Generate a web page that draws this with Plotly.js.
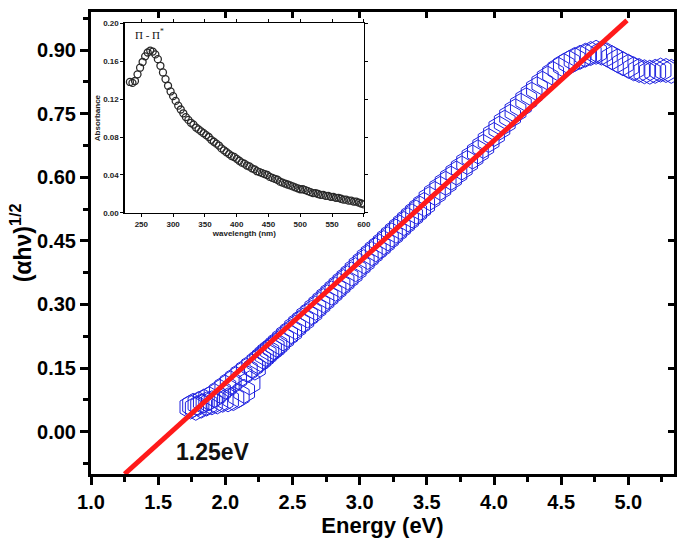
<!DOCTYPE html>
<html>
<head>
<meta charset="utf-8">
<script src="https://cdn.plot.ly/plotly-3.0.1.min.js"></script>
<style>html,body{margin:0;padding:0;background:#fff;}#chart{width:685px;height:539px;}</style>
</head>
<body>
<div id="chart"></div>
<script>
// Main Tauc plot data
const energy = [1.74,1.76,1.78,1.80,1.82,1.84,1.86,1.88,1.90,1.92,1.94,1.96,1.98,2.00,2.02,2.04,2.06,2.08,2.10,2.12,2.14,2.16,2.18,2.20,2.22,2.24,2.26,2.28,2.30,2.32,2.34,2.36,2.38,2.40,
  2.43,2.46,2.49,2.52,2.55,2.58,2.61,2.64,2.67,2.70,2.73,2.76,2.79,2.82,2.85,2.88,2.91,2.94,2.97,3.00,3.03,3.06,3.09,3.12,3.15,3.18,3.21,3.24,3.27,3.30,3.33,3.36,3.39,3.42,3.45,3.48,
  3.52,3.56,3.60,3.64,3.68,3.72,3.76,3.80,3.84,3.88,3.92,3.96,4.00,4.04,4.08,4.12,4.16,4.20,4.24,4.28,4.32,4.36,4.40,4.44,4.48,4.52,4.56,4.60,4.64,4.68,4.72,4.76,4.80,4.84,4.88,4.92,4.96,5.00,5.04,5.08,5.12,5.16,5.20,5.24,5.28,5.32];
const ahv = [0.058,0.062,0.055,0.066,0.060,0.072,0.065,0.078,0.068,0.085,0.070,0.095,0.074,0.105,0.075,0.115,0.078,0.125,0.085,0.135,0.095,0.145,0.115,0.155,0.150,0.165,0.170,0.176,0.182,0.188,0.193,0.198,0.204,0.210,
  0.219,0.228,0.236,0.246,0.255,0.263,0.273,0.281,0.291,0.300,0.309,0.318,0.327,0.336,0.345,0.354,0.363,0.372,0.382,0.392,0.401,0.411,0.420,0.429,0.437,0.446,0.455,0.464,0.473,0.482,0.491,0.500,0.509,0.518,0.527,0.536,
  0.550,0.562,0.574,0.586,0.598,0.610,0.622,0.635,0.648,0.660,0.673,0.687,0.701,0.716,0.730,0.744,0.757,0.770,0.783,0.796,0.809,0.822,0.834,0.845,0.855,0.864,0.871,0.878,0.883,0.888,0.892,0.895,0.893,0.889,0.882,0.875,0.868,0.862,0.856,0.852,0.849,0.848,0.850,0.853,0.852,0.850];
// Linear fit line endpoints
const fitX = [1.25, 4.99];
const fitY = [-0.10, 0.97];
// Inset absorbance spectrum
const wavelength = [232,236,240,244,248,252,256,260,264,268,272,276,280,284,288,292,296,300,304,308,312,316,320,324,328,332,336,
  340,344,348,352,356,360,364,368,372,376,380,384,388,392,396,400,404,408,412,416,420,424,428,432,436,440,444,448,452,456,460,464,468,472,476,480,484,488,492,496,500,504,508,512,516,520,524,528,532,536,540,544,548,552,556,560,564,568,572,576,580,584,588,592,596,600];
const absorbance = [0.138,0.137,0.139,0.146,0.153,0.159,0.165,0.169,0.171,0.170,0.167,0.162,0.155,0.148,0.141,0.134,0.128,0.123,0.118,0.113,0.109,0.105,0.101,0.098,0.095,0.093,0.090,
  0.088,0.086,0.084,0.082,0.080,0.077,0.075,0.073,0.071,0.068,0.066,0.064,0.062,0.060,0.059,0.057,0.055,0.053,0.052,0.050,0.049,0.047,0.046,0.044,0.043,0.042,0.041,0.040,0.038,0.037,0.036,0.035,0.033,0.032,0.031,0.030,0.029,0.028,0.027,0.026,0.025,0.025,0.024,0.023,0.022,0.021,0.021,0.020,0.019,0.019,0.018,0.018,0.017,0.017,0.016,0.016,0.015,0.014,0.014,0.013,0.013,0.012,0.012,0.011,0.010,0.009];
// Labels
const xTitle = 'Energy (eV)';
const yTitle = '(αhν)<sup>1/2</sup>';
const insetXTitle = 'wavelength (nm)';
const insetYTitle = 'Absorbance';
const gapLabel = '1.25eV';
const peakLabel = 'Π - Π<sup>*</sup>';

const FONT = 'Liberation Sans, Arial, sans-serif';
const xr = [1.0, 5.34], yr = [-0.10, 0.99];

const traces = [
  {x: energy, y: ahv, type: 'scatter', mode: 'markers', xaxis: 'x', yaxis: 'y',
   marker: {symbol: 'hexagon-open', size: 24, color: '#1f22e0', line: {width: 1, color: '#1f22e0'}}, showlegend: false, hoverinfo: 'skip'},
  {x: fitX, y: fitY, type: 'scatter', mode: 'lines', xaxis: 'x', yaxis: 'y',
   line: {color: '#ff1a1a', width: 5}, showlegend: false, hoverinfo: 'skip'},
  {x: [], y: [], type: 'scatter', mode: 'markers', xaxis: 'x3', yaxis: 'y3', showlegend: false},
  {x: wavelength, y: absorbance, type: 'scatter', mode: 'markers', xaxis: 'x2', yaxis: 'y2',
   marker: {symbol: 'circle-open', size: 7, color: '#2a2a2a', line: {width: 1.3, color: '#2a2a2a'}}, showlegend: false, hoverinfo: 'skip'}
];

const layout = {
  width: 685, height: 539,
  margin: {l: 91, r: 11, t: 12, b: 65},
  paper_bgcolor: '#fff', plot_bgcolor: '#fff',
  font: {family: FONT, color: '#000'},
  xaxis: {range: xr, domain: [0, 1], anchor: 'y', showgrid: false, zeroline: false,
    showline: true, linewidth: 3, linecolor: '#000', mirror: true,
    ticks: 'outside', ticklen: 8, tickwidth: 3, tickcolor: '#000',
    tick0: 1, dtick: 0.5, tickformat: '.1f',
    minor: {ticks: 'outside', ticklen: 5, tickwidth: 3, tickcolor: '#000', dtick: 0.25, tick0: 1},
    tickfont: {size: 20, family: FONT, weight: 'bold'},
    title: {text: xTitle, font: {size: 22, family: FONT, weight: 'bold'}, standoff: 2}},
  yaxis: {range: yr, domain: [0, 1], anchor: 'x', showgrid: false, zeroline: false,
    showline: true, linewidth: 3, linecolor: '#000', mirror: true,
    ticks: 'outside', ticklen: 8, tickwidth: 3, tickcolor: '#000',
    tick0: 0, dtick: 0.15, tickformat: '.2f',
    minor: {ticks: 'outside', ticklen: 5, tickwidth: 3, tickcolor: '#000', dtick: 0.075, tick0: 0},
    tickfont: {size: 20, family: FONT, weight: 'bold'},
    title: {text: yTitle, font: {size: 23, family: FONT, weight: 'bold'}, standoff: 0}},
  xaxis3: {range: xr, overlaying: 'x', side: 'top', anchor: 'y3', showgrid: false, zeroline: false,
    showline: false, ticks: 'inside', ticklen: 6, tickwidth: 3, tickcolor: '#000',
    tick0: 1, dtick: 0.5, showticklabels: false},
  yaxis3: {range: yr, overlaying: 'y', side: 'right', anchor: 'x3', showgrid: false, zeroline: false,
    showline: false, ticks: 'inside', ticklen: 6, tickwidth: 3, tickcolor: '#000',
    tick0: 0, dtick: 0.15, showticklabels: false},
  xaxis2: {range: [224, 600], domain: [0.058, 0.468], anchor: 'y2', showgrid: false, zeroline: false,
    showline: true, linewidth: 1.5, linecolor: '#000', mirror: 'ticks',
    ticks: 'outside', ticklen: 3, tickwidth: 1, tickcolor: '#000',
    tick0: 250, dtick: 50,
    tickfont: {size: 8, family: FONT, weight: 'bold', color: '#222'},
    title: {text: insetXTitle, font: {size: 8, family: FONT, weight: 'bold', color: '#222'}, standoff: 2}},
  yaxis2: {range: [0, 0.2], domain: [0.565, 0.976], anchor: 'x2', showgrid: false, zeroline: false,
    showline: true, linewidth: 1.5, linecolor: '#000', mirror: 'ticks',
    ticks: 'outside', ticklen: 3, tickwidth: 1, tickcolor: '#000',
    tick0: 0, dtick: 0.04, tickformat: '.2f',
    tickfont: {size: 8, family: FONT, weight: 'bold', color: '#222'},
    title: {text: insetYTitle, font: {size: 8, family: FONT, weight: 'bold', color: '#222'}, standoff: 1}},
  annotations: [
    {text: gapLabel, x: 1.905, y: -0.047, xref: 'x', yref: 'y', showarrow: false,
     font: {size: 23, family: FONT, weight: 'bold', color: '#111'}},
    {text: peakLabel, x: 263, y: 0.188, xref: 'x2', yref: 'y2', showarrow: false,
     font: {size: 11, family: 'Liberation Serif, Times New Roman, serif', color: '#111'}}
  ]
};

Plotly.newPlot('chart', traces, layout, {displayModeBar: false, staticPlot: true});
</script>
</body>
</html>
